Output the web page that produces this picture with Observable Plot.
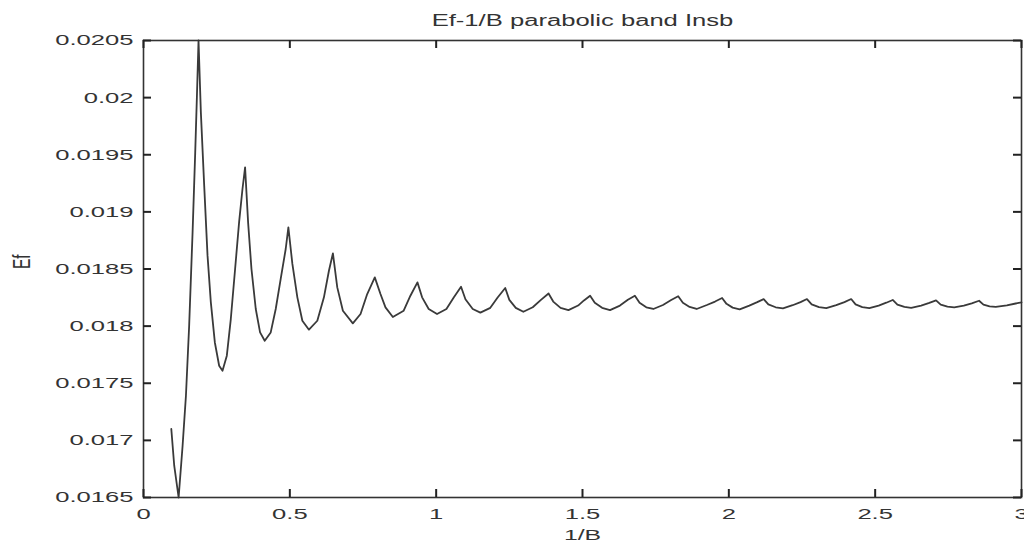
<!DOCTYPE html>
<html>
<head>
<meta charset="utf-8">
<script src="https://cdn.jsdelivr.net/npm/d3@7"></script>
<script src="https://cdn.jsdelivr.net/npm/@observablehq/plot@0.6"></script>
<style>body{margin:0;background:#fff}</style>
</head>
<body>
<div id="chart"></div>
<script>
const title = "Ef-1/B parabolic band Insb";
const xLabel = "1/B";
const yLabel = "Ef";
const xTicks = [0, 0.5, 1, 1.5, 2, 2.5, 3];
const xTickLabels = ["0", "0.5", "1", "1.5", "2", "2.5", "3"];
const yTicks = [0.0165, 0.017, 0.0175, 0.018, 0.0185, 0.019, 0.0195, 0.02, 0.0205];
const yTickLabels = ["0.0165", "0.017", "0.0175", "0.018", "0.0185", "0.019", "0.0195", "0.02", "0.0205"];

// 1/B values
const invB = [
  0.095, 0.105, 0.120, 0.1336, 0.145, 0.156, 0.1677, 0.1767, 0.1824, 0.188,
  0.196, 0.2074, 0.2188, 0.2301, 0.2438, 0.2585, 0.270, 0.2847, 0.2983, 0.313,
  0.3266, 0.3382, 0.3471, 0.3574, 0.3689, 0.3836, 0.3983, 0.4142, 0.4347, 0.4518,
  0.4688, 0.4859, 0.495, 0.5087, 0.5257, 0.5428, 0.5653, 0.5939, 0.6165, 0.6336,
  0.6472, 0.6621, 0.6813, 0.7153, 0.7416, 0.7644, 0.7903, 0.8097, 0.8268, 0.852,
  0.889, 0.912, 0.936, 0.952, 0.9745, 1.003, 1.035, 1.060, 1.085, 1.100,
  1.125, 1.151, 1.185, 1.210, 1.236, 1.250, 1.272, 1.298, 1.330, 1.358,
  1.384, 1.400, 1.425, 1.452, 1.485, 1.505, 1.526, 1.542, 1.567, 1.594,
  1.628, 1.655, 1.679, 1.695, 1.718, 1.742, 1.775, 1.803, 1.827, 1.843,
  1.866, 1.890, 1.925, 1.953, 1.977, 1.992, 2.013, 2.037, 2.070, 2.097,
  2.119, 2.135, 2.160, 2.185, 2.218, 2.245, 2.267, 2.283, 2.308, 2.333,
  2.367, 2.395, 2.418, 2.433, 2.456, 2.480, 2.512, 2.538, 2.560, 2.576,
  2.600, 2.623, 2.657, 2.685, 2.708, 2.724, 2.747, 2.770, 2.803, 2.830,
  2.855, 2.870, 2.891, 2.912, 2.950, 2.980, 3.0
];
// Ef values
const ef = [
  0.01710, 0.016778, 0.01648, 0.016953, 0.017391, 0.018004, 0.01882, 0.019521, 0.020003, 0.02060,
  0.019871, 0.019230, 0.018617, 0.018208, 0.017857, 0.017653, 0.01761, 0.017741, 0.018062, 0.0185,
  0.018908, 0.0192, 0.01939, 0.018908, 0.0185, 0.01815, 0.017945, 0.017872, 0.017945, 0.01815,
  0.018413, 0.018675, 0.018864, 0.018544, 0.018252, 0.018047, 0.017969, 0.018047, 0.018252, 0.018485,
  0.018637, 0.018339, 0.018135, 0.018024, 0.018106, 0.018281, 0.018427, 0.018281, 0.018164, 0.01808,
  0.018135, 0.018266, 0.018383, 0.018252, 0.01815, 0.018106, 0.01815, 0.01825, 0.018345, 0.018235,
  0.01815, 0.018118, 0.01816, 0.01825, 0.018334, 0.01823, 0.01816, 0.018126, 0.018165, 0.01823,
  0.018286, 0.018215, 0.01816, 0.01814, 0.01818, 0.018225, 0.018266, 0.018205, 0.01816, 0.01814,
  0.01818, 0.01823, 0.018266, 0.018205, 0.018165, 0.01815, 0.018185, 0.018228, 0.018262, 0.018205,
  0.018168, 0.01815, 0.018185, 0.018215, 0.018246, 0.018195, 0.018162, 0.018146, 0.01818, 0.01821,
  0.018237, 0.01819, 0.018165, 0.018156, 0.018183, 0.01821, 0.018237, 0.01819, 0.018166, 0.018157,
  0.018183, 0.01821, 0.018237, 0.01819, 0.018167, 0.018158, 0.01818, 0.018205, 0.018229, 0.018188,
  0.018168, 0.01816, 0.01818, 0.018203, 0.018226, 0.018188, 0.01817, 0.018164, 0.01818, 0.0182,
  0.018222, 0.018188, 0.018173, 0.018168, 0.018182, 0.018198, 0.018207
];

const points = invB.map((x, i) => ({x, y: ef[i]}));
const ink = "#222";

const width = 1024, height = 544;
const margin = {top: 40, right: 3, bottom: 47, left: 143};
const frameW = width - margin.left - margin.right;
const frameH = height - margin.top - margin.bottom;
const tickLen = 8;

const chart = Plot.plot({
  width,
  height,
  marginTop: margin.top,
  marginBottom: margin.bottom,
  marginLeft: margin.left,
  marginRight: margin.right,
  style: {fontFamily: "'Liberation Sans', Arial, sans-serif", fontSize: "15.5px"},
  x: {domain: [0, 3]},
  y: {domain: [0.0165, 0.0205], clamp: true},
  marks: [
    Plot.line(points, {x: "x", y: "y", stroke: "#3a3a3a", strokeWidth: 1.8}),
    // tick labels
    Plot.axisX(xTicks, {anchor: "bottom", tickSize: 0, tickPadding: 10, fill: "#333", tickFormat: d => xTickLabels[xTicks.indexOf(d)], label: null}),
    Plot.axisY(yTicks, {anchor: "left", tickSize: 0, tickPadding: 10, fill: "#333", tickFormat: d => yTickLabels[yTicks.indexOf(d)], label: null}),
    // title and axis labels
    Plot.text([title], {text: d => d, frameAnchor: "top", dy: -20, fontSize: 16, fill: "#333", lineAnchor: "middle"}),
    Plot.text([xLabel], {text: d => d, frameAnchor: "bottom", dy: 38, fontSize: 15.5, fill: "#333", lineAnchor: "middle"}),
    Plot.text([yLabel], {text: d => d, frameAnchor: "left", dx: -121, rotate: -90, fontSize: 15.5, fill: "#333", lineAnchor: "middle"}),
    // box and inward tick marks on all four sides, drawn last
    Plot.frame({stroke: "#333", strokeWidth: 1.6}),
    Plot.tickX(xTicks, {x: d => d, insetTop: frameH - tickLen, stroke: ink, strokeWidth: 2}),
    Plot.tickX(xTicks, {x: d => d, insetBottom: frameH - tickLen, stroke: ink, strokeWidth: 2}),
    Plot.tickY(yTicks, {y: d => d, insetRight: frameW - tickLen, stroke: ink, strokeWidth: 2}),
    Plot.tickY(yTicks, {y: d => d, insetLeft: frameW - tickLen, stroke: ink, strokeWidth: 2})
  ]
});
document.getElementById("chart").append(chart);

function stretch(selector, k) {
  chart.querySelectorAll(selector).forEach(t => {
    const w = t.getComputedTextLength();
    if (w > 0 && t.textContent !== yLabel) {
      t.setAttribute("textLength", w * k);
      t.setAttribute("lengthAdjust", "spacingAndGlyphs");
    }
  });
}
stretch('g[aria-label="x-axis tick label"] text', 1.65);
stretch('g[aria-label="y-axis tick label"] text', 1.65);
stretch('g[aria-label="text"] text', 1.6);
// the rotated label is widened across its glyph height, like the reference
chart.querySelectorAll('g[aria-label="text"] text').forEach(t => {
  if (t.textContent === yLabel) {
    const tr = t.getAttribute("transform") || "";
    t.setAttribute("transform", tr + " scale(1,1.6)");
  }
});
</script>
</body>
</html>
